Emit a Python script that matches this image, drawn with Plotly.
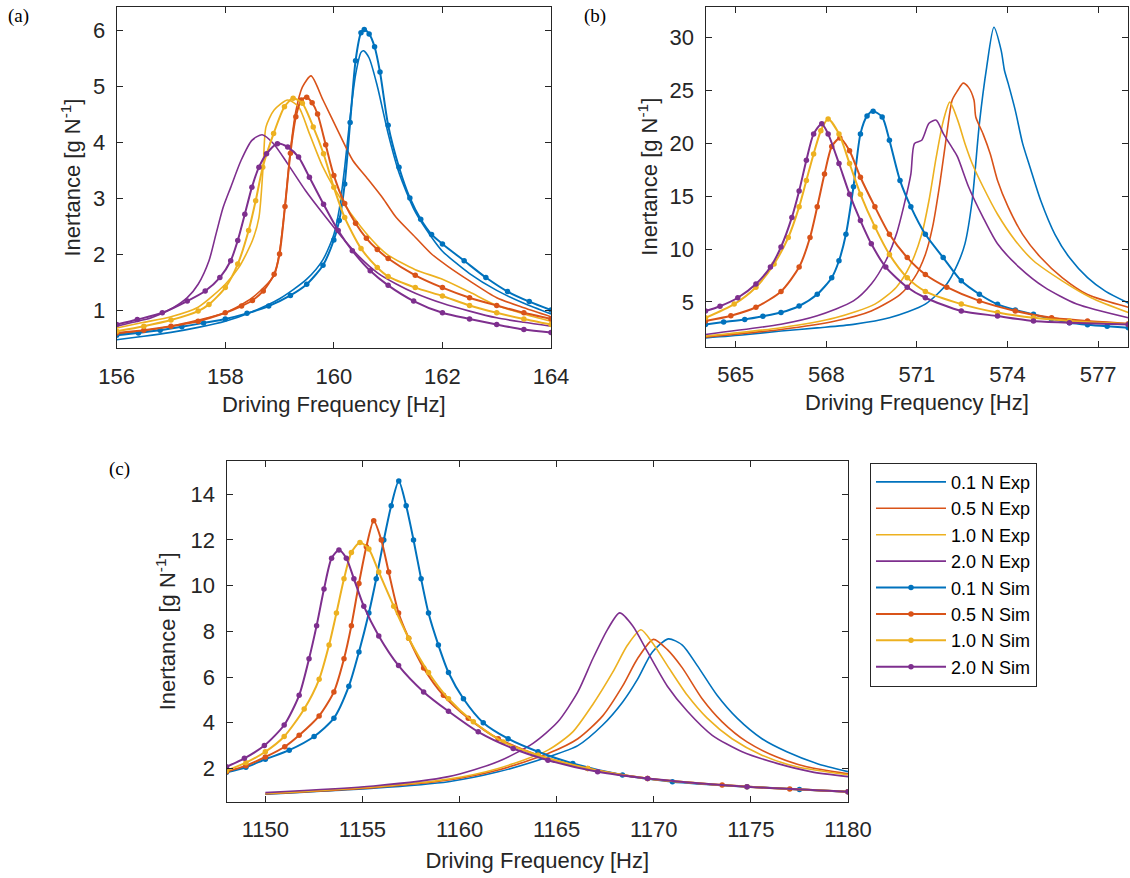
import plotly.graph_objects as go

# ---------------- Panel (a) ----------------
A_EXP01_X = [156.0,156.5,157.0,157.5,158.0,158.5,159.0,159.5,159.8,160.0,160.1,160.2,160.3,160.4,160.5,160.55,160.65,160.8,161.0,161.2,161.5,161.8,162.0,162.5,163.0,163.5,164.0]
A_EXP01_Y = [0.47,0.53,0.60,0.69,0.80,0.97,1.20,1.55,1.90,2.35,2.80,3.55,4.45,5.20,5.60,5.63,5.50,5.00,4.15,3.45,2.75,2.30,2.05,1.65,1.35,1.12,0.93]
A_EXP05_X = [156.0,156.5,157.0,157.5,158.0,158.5,158.9,159.0,159.1,159.2,159.3,159.42,159.58,159.8,160.1,160.35,160.6,160.9,161.15,161.5,161.8,162.1,162.5,163.0,163.5,164.0]
A_EXP05_Y = [0.57,0.63,0.71,0.82,0.95,1.22,1.62,2.05,2.85,3.85,4.55,4.98,5.18,4.75,4.15,3.67,3.37,3.00,2.65,2.30,2.00,1.78,1.52,1.22,1.04,0.88]
A_EXP10_X = [156.0,156.5,157.0,157.5,158.0,158.25,158.5,158.62,158.7,158.75,158.9,159.15,159.35,159.55,159.8,160.15,160.5,160.8,161.0,161.5,162.0,162.5,163.0,163.5,164.0]
A_EXP10_Y = [0.68,0.78,0.88,1.05,1.46,1.76,2.24,2.65,3.60,4.27,4.57,4.75,4.63,4.15,3.55,2.95,2.48,2.15,1.98,1.72,1.55,1.32,1.08,0.93,0.80]
A_EXP20_X = [156.0,156.3,156.64,157.04,157.3,157.5,157.7,157.83,157.96,158.1,158.29,158.49,158.68,158.89,159.15,159.48,159.81,160.15,160.48,160.81,161.14,161.5,162.0,162.5,163.0,163.5,164.0]
A_EXP20_Y = [0.71,0.78,0.86,1.04,1.22,1.46,1.88,2.36,2.83,3.19,3.67,4.03,4.13,3.97,3.61,3.13,2.71,2.30,1.94,1.66,1.47,1.30,1.12,0.98,0.86,0.78,0.71]

A_SIM01_X = [156.0,156.4,156.8,157.2,157.6,158.0,158.4,158.8,159.2,159.5,159.8,160.0,160.1,160.2,160.3,160.4,160.5,160.56,160.65,160.75,160.85,161.0,161.2,161.4,161.6,161.8,162.0,162.4,162.8,163.2,163.6,164.0]
A_SIM01_Y = [0.55,0.59,0.64,0.70,0.77,0.84,0.94,1.07,1.26,1.46,1.80,2.25,2.60,3.25,4.35,5.45,5.95,6.01,5.93,5.70,5.25,4.30,3.55,3.00,2.62,2.35,2.18,1.88,1.58,1.33,1.15,1.00]
A_SIM05_X = [156.0,156.5,157.0,157.5,158.0,158.3,158.5,158.7,158.9,159.0,159.1,159.2,159.3,159.4,159.5,159.6,159.7,159.85,160.0,160.2,160.4,160.6,160.8,161.0,161.5,162.0,162.5,163.0,163.5,164.0]
A_SIM05_Y = [0.59,0.64,0.71,0.80,0.95,1.07,1.17,1.34,1.64,2.00,2.85,3.80,4.45,4.75,4.80,4.70,4.50,3.95,3.40,2.90,2.55,2.28,2.08,1.92,1.62,1.40,1.22,1.08,0.95,0.84]
A_SIM10_X = [156.0,156.5,157.0,157.5,157.7,158.0,158.23,158.43,158.56,158.69,158.89,159.09,159.25,159.42,159.62,159.81,160.0,160.2,160.5,160.8,161.0,161.5,162.0,162.5,163.0,163.5,164.0]
A_SIM10_Y = [0.62,0.71,0.82,0.98,1.10,1.40,1.82,2.42,2.95,3.55,4.15,4.63,4.78,4.69,4.27,3.79,3.19,2.65,2.10,1.76,1.60,1.40,1.25,1.08,0.95,0.84,0.74]
A_SIM20_X = [156.0,156.38,156.84,157.3,157.63,157.9,158.1,158.23,158.36,158.49,158.62,158.76,158.96,159.15,159.35,159.55,159.81,160.08,160.34,160.67,161.0,161.47,162.0,162.5,163.0,163.5,164.0]
A_SIM20_Y = [0.74,0.83,0.95,1.16,1.34,1.58,1.88,2.24,2.71,3.19,3.55,3.79,3.97,3.91,3.73,3.37,2.89,2.42,2.06,1.70,1.44,1.16,0.95,0.84,0.74,0.65,0.60]

# ---------------- Panel (b) ----------------
B_EXP01_X = [564.0,565.3,566.5,567.7,568.9,570.09,571.28,571.99,572.35,572.59,572.83,573.07,573.31,573.55,573.79,573.9,574.02,574.26,574.5,574.74,575.1,575.57,576.05,576.65,577.25,578.0]
B_EXP01_Y = [1.60,1.90,2.25,2.55,2.88,3.50,4.80,6.70,8.60,10.5,14.6,21.9,27.2,30.98,28.8,26.9,25.7,23.1,20.0,17.8,14.6,11.4,9.2,7.3,6.0,4.9]
B_EXP05_X = [564.0,566.5,568.3,569.49,570.44,570.92,571.28,571.52,571.76,571.99,572.17,572.35,572.53,572.71,572.89,572.95,573.19,573.43,573.67,574.02,574.5,575.1,575.81,576.65,578.0]
B_EXP05_Y = [1.68,2.40,3.20,4.15,5.70,7.30,9.50,12.1,16.2,20.9,24.1,25.0,25.7,25.3,24.1,22.5,20.9,19.0,16.5,14.0,11.4,9.2,7.3,5.7,4.5]
B_EXP10_X = [564.0,566.5,568.3,569.61,570.32,570.8,571.16,571.4,571.64,571.88,572.09,572.35,572.59,572.83,573.19,573.67,574.26,574.86,575.81,576.77,578.0]
B_EXP10_Y = [1.77,2.56,3.50,4.80,6.40,8.60,11.4,14.6,18.7,22.2,23.9,22.2,20.0,18.1,15.9,13.3,10.8,8.9,7.0,5.4,4.0]
B_EXP20_X = [564.0,566.5,567.7,568.9,569.49,569.97,570.32,570.56,570.8,570.92,571.16,571.4,571.64,571.88,572.23,572.35,572.71,573.19,573.67,574.38,575.22,576.29,578.0]
B_EXP20_Y = [1.93,2.90,3.70,5.10,6.70,8.90,11.4,14.0,17.1,20.0,20.3,21.9,22.2,20.9,19.3,18.7,15.9,13.0,10.5,8.3,6.4,4.8,3.5]

B_SIM01_X = [564.0,564.6,565.3,565.9,566.5,567.1,567.7,568.18,568.42,568.65,568.9,569.13,569.35,569.55,569.85,570.09,570.44,570.8,571.28,571.87,572.47,573.07,573.67,574.26,574.86,575.45,576.05,576.65,577.3,578.0]
B_SIM01_Y = [2.88,3.10,3.35,3.65,4.00,4.62,5.73,7.30,8.90,11.4,15.9,20.9,22.6,23.04,22.5,20.3,16.5,14.0,11.4,9.2,7.0,5.73,4.78,4.25,3.83,3.40,3.04,2.85,2.70,2.56]
B_SIM05_X = [564.0,564.84,565.67,566.5,567.1,567.46,567.7,567.94,568.18,568.45,568.77,569.13,569.61,570.09,570.68,571.28,571.99,573.07,574.26,575.46,576.65,578.0]
B_SIM05_Y = [3.20,3.70,4.50,6.00,8.30,11.1,14.0,17.1,19.7,20.5,19.3,16.8,14.0,11.4,9.2,7.6,6.4,5.1,4.15,3.50,3.20,2.95]
B_SIM10_X = [564.0,564.95,565.67,566.27,566.74,567.1,567.34,567.58,567.82,568.06,568.42,568.77,569.13,569.61,570.09,570.68,571.28,572.47,573.67,574.86,576.05,578.0]
B_SIM10_Y = [3.50,4.80,6.40,8.60,11.1,14.0,16.5,19.0,21.2,22.3,20.9,18.1,15.2,12.1,9.5,7.3,6.0,4.8,4.0,3.5,3.2,2.9]
B_SIM20_X = [564.0,564.48,565.07,565.67,566.15,566.5,566.86,567.1,567.34,567.58,567.85,568.06,568.42,568.77,569.13,569.49,569.97,570.68,571.28,572.47,573.67,574.86,576.05,578.0]
B_SIM20_Y = [4.15,4.60,5.40,6.70,8.30,10.2,13.0,15.5,18.4,20.9,21.87,20.9,18.1,15.2,12.7,10.5,8.3,6.4,5.4,4.15,3.67,3.20,3.04,2.88]

# ---------------- Panel (c) ----------------
C_EXP01_X = [1150.0,1155.58,1159.43,1161.99,1164.55,1166.09,1167.37,1168.39,1169.16,1169.93,1170.75,1171.47,1172.24,1173.26,1174.29,1175.57,1176.85,1178.39,1180.0]
C_EXP01_Y = [0.87,1.13,1.42,1.85,2.50,3.00,3.90,4.90,5.90,7.10,7.67,7.40,6.50,5.20,4.20,3.30,2.73,2.22,1.86]
C_EXP05_X = [1150.0,1155.58,1159.43,1161.99,1164.55,1166.09,1167.37,1168.39,1169.16,1169.98,1170.7,1171.47,1172.49,1173.52,1174.8,1176.34,1177.87,1180.0]
C_EXP05_Y = [0.88,1.16,1.49,1.93,2.65,3.30,4.30,5.60,6.80,7.65,7.20,6.40,5.05,4.04,3.16,2.50,2.07,1.76]
C_EXP10_X = [1150.0,1155.58,1159.43,1161.99,1164.55,1165.83,1166.86,1167.88,1168.65,1169.34,1169.93,1170.7,1171.73,1172.75,1174.03,1175.57,1177.36,1180.0]
C_EXP10_Y = [0.90,1.19,1.53,2.00,2.80,3.60,4.80,6.20,7.40,8.07,7.50,6.50,5.20,4.20,3.30,2.58,2.07,1.72]
C_EXP20_X = [1150.0,1155.58,1159.43,1161.99,1163.78,1165.06,1166.09,1166.86,1167.63,1168.24,1168.91,1169.68,1170.7,1171.73,1173.01,1174.55,1176.34,1178.13,1180.0]
C_EXP20_Y = [0.94,1.23,1.64,2.30,3.10,4.04,5.35,6.80,8.10,8.81,8.25,7.10,5.60,4.50,3.45,2.73,2.22,1.85,1.64]

C_SIM01_X = [1148.0,1149.0,1150.0,1151.23,1152.51,1153.53,1154.3,1154.82,1155.33,1155.71,1156.1,1156.48,1156.87,1157.25,1157.63,1158.02,1158.4,1158.91,1159.43,1160.2,1161.22,1162.5,1164.04,1165.83,1168.39,1170.96,1174.8,1177.5,1180.0]
C_SIM01_Y = [1.83,2.05,2.40,2.80,3.40,4.20,5.60,7.10,8.80,10.3,12.0,13.5,14.58,13.5,12.0,10.3,8.8,7.4,6.2,5.05,4.0,3.3,2.73,2.22,1.71,1.42,1.20,1.08,0.98]
C_SIM05_X = [1148.0,1149.0,1150.0,1151.0,1151.74,1152.77,1153.53,1154.05,1154.43,1154.82,1155.2,1155.58,1155.97,1156.35,1156.86,1157.38,1158.15,1159.17,1160.45,1161.99,1164.04,1166.6,1169.68,1173.52,1177.0,1180.0]
C_SIM05_Y = [1.85,2.12,2.50,2.95,3.45,4.30,5.35,6.80,8.25,10.1,11.7,12.84,12.0,10.6,8.8,7.7,6.4,5.2,4.2,3.3,2.58,2.0,1.56,1.27,1.10,0.98]
C_SIM10_X = [1148.0,1149.0,1150.0,1150.97,1152.0,1152.77,1153.28,1153.66,1154.05,1154.43,1154.87,1155.33,1155.84,1156.61,1157.38,1158.4,1159.43,1160.71,1162.25,1164.04,1166.6,1169.68,1174.8,1180.0]
C_SIM10_Y = [1.90,2.25,2.73,3.40,4.60,5.90,7.40,8.80,10.3,11.45,11.89,11.6,10.6,9.1,7.7,6.2,5.05,4.04,3.16,2.58,2.0,1.56,1.20,0.98]
C_SIM20_X = [1148.0,1148.92,1149.95,1150.97,1151.74,1152.25,1152.64,1153.02,1153.41,1153.79,1154.17,1154.56,1155.07,1155.84,1156.86,1158.15,1159.43,1160.96,1162.76,1164.55,1167.11,1169.68,1174.8,1180.0]
C_SIM20_Y = [2.07,2.44,3.00,3.90,5.20,6.80,8.25,9.85,11.2,11.56,11.2,10.3,9.1,7.8,6.5,5.35,4.5,3.6,2.87,2.36,1.85,1.56,1.20,0.98]

FORCE_LABELS = ["0.1 N", "0.5 N", "1.0 N", "2.0 N"]
COLORS = ["#0072BD", "#D95319", "#EDB120", "#7E2F8E"]

PANELS = [
    ("x", "y", [(A_EXP01_X, A_EXP01_Y), (A_EXP05_X, A_EXP05_Y), (A_EXP10_X, A_EXP10_Y), (A_EXP20_X, A_EXP20_Y)],
               [(A_SIM01_X, A_SIM01_Y), (A_SIM05_X, A_SIM05_Y), (A_SIM10_X, A_SIM10_Y), (A_SIM20_X, A_SIM20_Y)]),
    ("x2", "y2", [(B_EXP01_X, B_EXP01_Y), (B_EXP05_X, B_EXP05_Y), (B_EXP10_X, B_EXP10_Y), (B_EXP20_X, B_EXP20_Y)],
                 [(B_SIM01_X, B_SIM01_Y), (B_SIM05_X, B_SIM05_Y), (B_SIM10_X, B_SIM10_Y), (B_SIM20_X, B_SIM20_Y)]),
    ("x3", "y3", [(C_EXP01_X, C_EXP01_Y), (C_EXP05_X, C_EXP05_Y), (C_EXP10_X, C_EXP10_Y), (C_EXP20_X, C_EXP20_Y)],
                 [(C_SIM01_X, C_SIM01_Y), (C_SIM05_X, C_SIM05_Y), (C_SIM10_X, C_SIM10_Y), (C_SIM20_X, C_SIM20_Y)]),
]

W, H = 1130, 878
FONT = "Liberation Sans, Arial, sans-serif"
AX = "#262626"

fig = go.Figure()

for pi, (xa, ya, exps, sims) in enumerate(PANELS):
    for i, (xs, ys) in enumerate(exps):
        fig.add_trace(go.Scatter(
            x=xs, y=ys, xaxis=xa, yaxis=ya, mode="lines",
            line=dict(color=COLORS[i], width=1.6, shape="spline", smoothing=0.7),
            name=FORCE_LABELS[i] + " Exp", showlegend=(pi == 2), legendrank=i + 1))
for pi, (xa, ya, exps, sims) in enumerate(PANELS):
    for i, (xs, ys) in enumerate(sims):
        fig.add_trace(go.Scatter(
            x=xs, y=ys, xaxis=xa, yaxis=ya, mode="lines+markers",
            line=dict(color=COLORS[i], width=2, shape="spline", smoothing=0.7),
            marker=dict(color=COLORS[i], size=5.5),
            name=FORCE_LABELS[i] + " Sim", showlegend=(pi == 2), legendrank=i + 5))

def px_dom_x(a, b):
    return [a / W, b / W]

def px_dom_y(top, bottom):
    return [1 - bottom / H, 1 - top / H]

def axis(dom, rng, tickvals, title, anchor, standoff, title_standoff):
    return dict(domain=dom, range=rng, tickvals=tickvals, anchor=anchor,
                automargin=False,
                showline=True, linecolor=AX, linewidth=1, mirror="ticks",
                ticks="inside", ticklen=6, tickcolor=AX, tickwidth=1,
                showgrid=False, zeroline=False,
                tickfont=dict(family=FONT, size=22, color=AX),
                ticklabelstandoff=standoff,
                title=dict(text=title, standoff=title_standoff,
                           font=dict(family=FONT, size=22, color=AX)))

XT = "Driving Frequency [Hz]"
YT = "Inertance [g N<sup>-1</sup>]"

fig.update_layout(
    width=W, height=H, margin=dict(l=0, r=0, t=0, b=0, autoexpand=False),
    paper_bgcolor="white", plot_bgcolor="white",
    xaxis=axis(px_dom_x(116.7, 551), [156, 164], [156, 158, 160, 162, 164], XT, "y", 8, 8),
    yaxis=axis(px_dom_y(6.7, 348.3), [0.316, 6.416], [1, 2, 3, 4, 5, 6], YT, "x", 6, 6),
    xaxis2=axis(px_dom_x(705.5, 1128.3), [564, 578], [565, 568, 571, 574, 577], XT, "y2", 8, 8),
    yaxis2=axis(px_dom_y(6.7, 346.7), [0.77, 32.93], [5, 10, 15, 20, 25, 30], YT, "x2", 6, 5),
    xaxis3=axis(px_dom_x(226.5, 848), [1148, 1180], [1150, 1155, 1160, 1165, 1170, 1175, 1180], XT, "y3", 8, 11),
    yaxis3=axis(px_dom_y(460.7, 802), [0.53, 15.47], [2, 4, 6, 8, 10, 12, 14], YT, "x3", 6, 8),
    legend=dict(x=870 / W, y=1 - 462.7 / H, xanchor="left", yanchor="top",
                bordercolor=AX, borderwidth=1, bgcolor="white",
                font=dict(family=FONT, size=18, color="#000000"),
                itemwidth=70,
                traceorder="normal", tracegroupgap=0),
    showlegend=True,
)

SERIF = "Liberation Serif, Times New Roman, serif"
for txt, xp, yp in [("(a)", 18, 16), ("(b)", 595, 16), ("(c)", 119, 469)]:
    fig.add_annotation(text=txt, x=xp / W, y=1 - yp / H, xref="paper", yref="paper",
                       showarrow=False, font=dict(family=SERIF, size=19, color="#000000"),
                       xanchor="center", yanchor="middle")

fig.write_html(
    "out.html",
    config={"displayModeBar": False},
    post_script="document.documentElement.style.margin='0';document.body.style.margin='0';"
                "document.body.style.overflow='hidden';",
)
